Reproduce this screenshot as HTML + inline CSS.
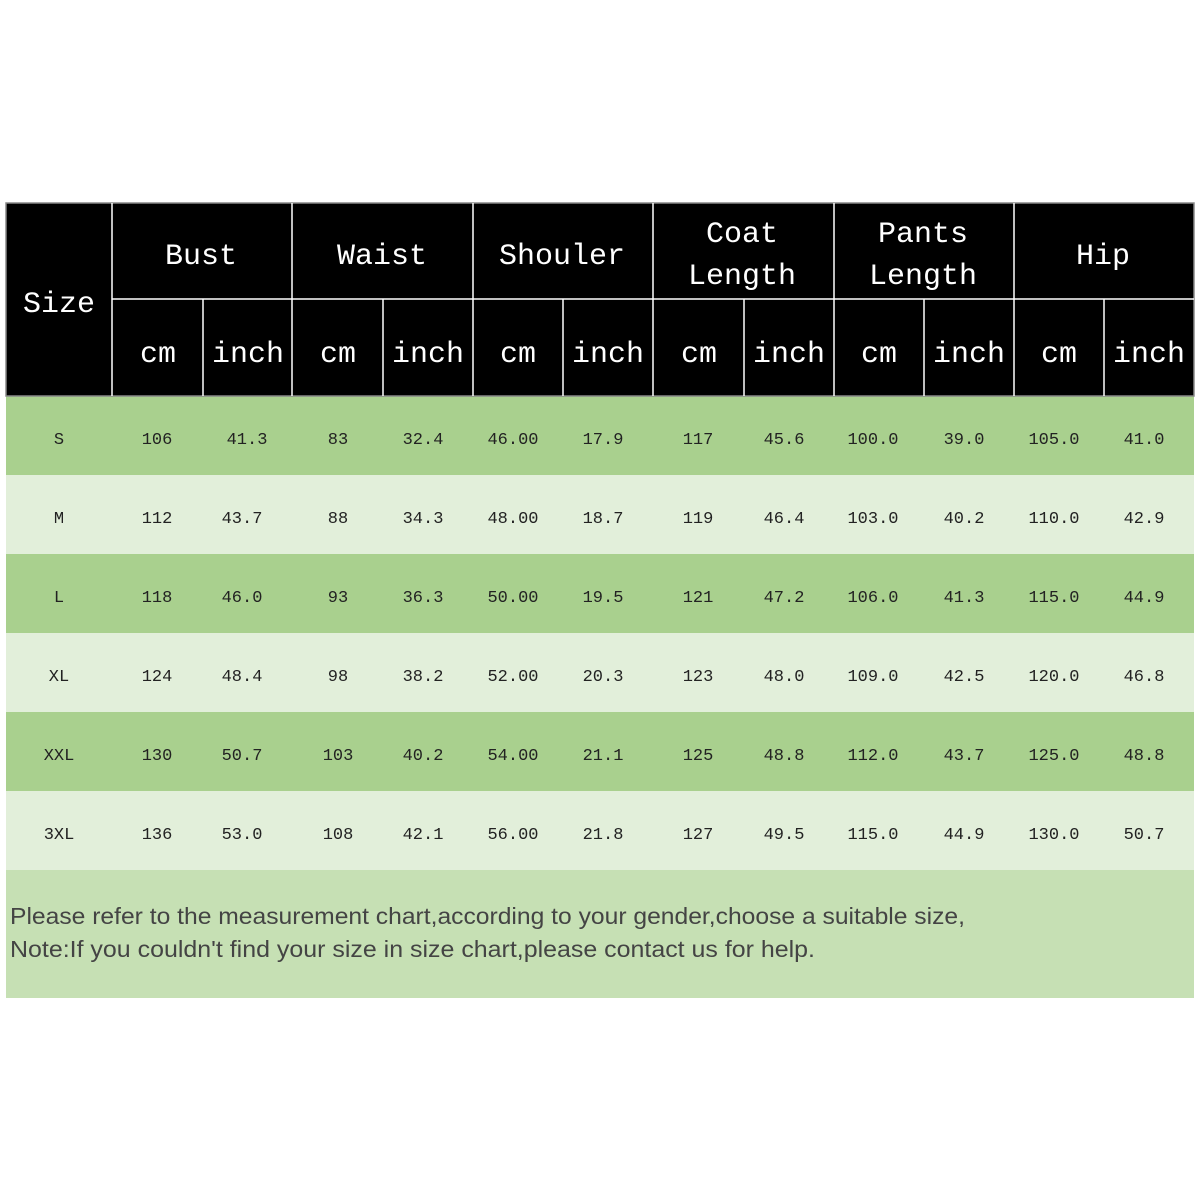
<!DOCTYPE html>
<html><head><meta charset="utf-8"><style>
html,body{margin:0;padding:0;background:#fff;width:1200px;height:1200px;overflow:hidden}
</style></head><body>
<svg width="1200" height="1200" xmlns="http://www.w3.org/2000/svg">
<rect x="0" y="0" width="1200" height="1200" fill="#fff"/>
<rect x="6" y="203" width="1188" height="193" fill="#000"/>
<rect x="6" y="396" width="1188" height="79" fill="#a9d08e"/>
<rect x="6" y="475" width="1188" height="79" fill="#e2efda"/>
<rect x="6" y="554" width="1188" height="79" fill="#a9d08e"/>
<rect x="6" y="633" width="1188" height="79" fill="#e2efda"/>
<rect x="6" y="712" width="1188" height="79" fill="#a9d08e"/>
<rect x="6" y="791" width="1188" height="79" fill="#e2efda"/>
<rect x="6" y="870" width="1188" height="128" fill="#c6e0b4"/>
<rect x="6" y="203" width="1188" height="193" fill="none" stroke="#888" stroke-width="1.5"/>
<g stroke="#fff" stroke-width="1.5">
<line x1="112" y1="203" x2="112" y2="396"/>
<line x1="112" y1="299" x2="1194" y2="299"/>
<line x1="292" y1="203" x2="292" y2="396"/>
<line x1="473" y1="203" x2="473" y2="396"/>
<line x1="653" y1="203" x2="653" y2="396"/>
<line x1="834" y1="203" x2="834" y2="396"/>
<line x1="1014" y1="203" x2="1014" y2="396"/>
<line x1="203" y1="299" x2="203" y2="396"/>
<line x1="383" y1="299" x2="383" y2="396"/>
<line x1="563" y1="299" x2="563" y2="396"/>
<line x1="744" y1="299" x2="744" y2="396"/>
<line x1="924" y1="299" x2="924" y2="396"/>
<line x1="1104" y1="299" x2="1104" y2="396"/>
</g>
<g fill="#fff" font-family="Liberation Mono, monospace" font-size="30" text-anchor="middle">
<text x="59" y="312">Size</text>
<text x="201" y="264">Bust</text>
<text x="382" y="264">Waist</text>
<text x="562" y="264">Shouler</text>
<text x="742" y="242">Coat</text>
<text x="742" y="284">Length</text>
<text x="923" y="242">Pants</text>
<text x="923" y="284">Length</text>
<text x="1103" y="264">Hip</text>
<text x="158" y="362">cm</text><text x="248" y="362">inch</text>
<text x="338" y="362">cm</text><text x="428" y="362">inch</text>
<text x="518" y="362">cm</text><text x="608" y="362">inch</text>
<text x="699" y="362">cm</text><text x="789" y="362">inch</text>
<text x="879" y="362">cm</text><text x="969" y="362">inch</text>
<text x="1059" y="362">cm</text><text x="1149" y="362">inch</text>
</g>
<g fill="#222" font-family="Liberation Mono, monospace" font-size="17" text-anchor="middle">
<text y="444"><tspan x="59">S</tspan><tspan x="157">106</tspan><tspan x="247">41.3</tspan><tspan x="338">83</tspan><tspan x="423">32.4</tspan><tspan x="513">46.00</tspan><tspan x="603">17.9</tspan><tspan x="698">117</tspan><tspan x="784">45.6</tspan><tspan x="873">100.0</tspan><tspan x="964">39.0</tspan><tspan x="1054">105.0</tspan><tspan x="1144">41.0</tspan></text>
<text y="523"><tspan x="59">M</tspan><tspan x="157">112</tspan><tspan x="242">43.7</tspan><tspan x="338">88</tspan><tspan x="423">34.3</tspan><tspan x="513">48.00</tspan><tspan x="603">18.7</tspan><tspan x="698">119</tspan><tspan x="784">46.4</tspan><tspan x="873">103.0</tspan><tspan x="964">40.2</tspan><tspan x="1054">110.0</tspan><tspan x="1144">42.9</tspan></text>
<text y="602"><tspan x="59">L</tspan><tspan x="157">118</tspan><tspan x="242">46.0</tspan><tspan x="338">93</tspan><tspan x="423">36.3</tspan><tspan x="513">50.00</tspan><tspan x="603">19.5</tspan><tspan x="698">121</tspan><tspan x="784">47.2</tspan><tspan x="873">106.0</tspan><tspan x="964">41.3</tspan><tspan x="1054">115.0</tspan><tspan x="1144">44.9</tspan></text>
<text y="681"><tspan x="59">XL</tspan><tspan x="157">124</tspan><tspan x="242">48.4</tspan><tspan x="338">98</tspan><tspan x="423">38.2</tspan><tspan x="513">52.00</tspan><tspan x="603">20.3</tspan><tspan x="698">123</tspan><tspan x="784">48.0</tspan><tspan x="873">109.0</tspan><tspan x="964">42.5</tspan><tspan x="1054">120.0</tspan><tspan x="1144">46.8</tspan></text>
<text y="760"><tspan x="59">XXL</tspan><tspan x="157">130</tspan><tspan x="242">50.7</tspan><tspan x="338">103</tspan><tspan x="423">40.2</tspan><tspan x="513">54.00</tspan><tspan x="603">21.1</tspan><tspan x="698">125</tspan><tspan x="784">48.8</tspan><tspan x="873">112.0</tspan><tspan x="964">43.7</tspan><tspan x="1054">125.0</tspan><tspan x="1144">48.8</tspan></text>
<text y="839"><tspan x="59">3XL</tspan><tspan x="157">136</tspan><tspan x="242">53.0</tspan><tspan x="338">108</tspan><tspan x="423">42.1</tspan><tspan x="513">56.00</tspan><tspan x="603">21.8</tspan><tspan x="698">127</tspan><tspan x="784">49.5</tspan><tspan x="873">115.0</tspan><tspan x="964">44.9</tspan><tspan x="1054">130.0</tspan><tspan x="1144">50.7</tspan></text>
</g>
<g fill="#444" font-family="Liberation Sans, sans-serif" font-size="23">
<text x="10" y="924" textLength="955" lengthAdjust="spacingAndGlyphs">Please refer to the measurement chart,according to your gender,choose a suitable size,</text>
<text x="10" y="957" textLength="805" lengthAdjust="spacingAndGlyphs">Note:If you couldn't find your size in size chart,please contact us for help.</text>
</g>
</svg>
</body></html>
